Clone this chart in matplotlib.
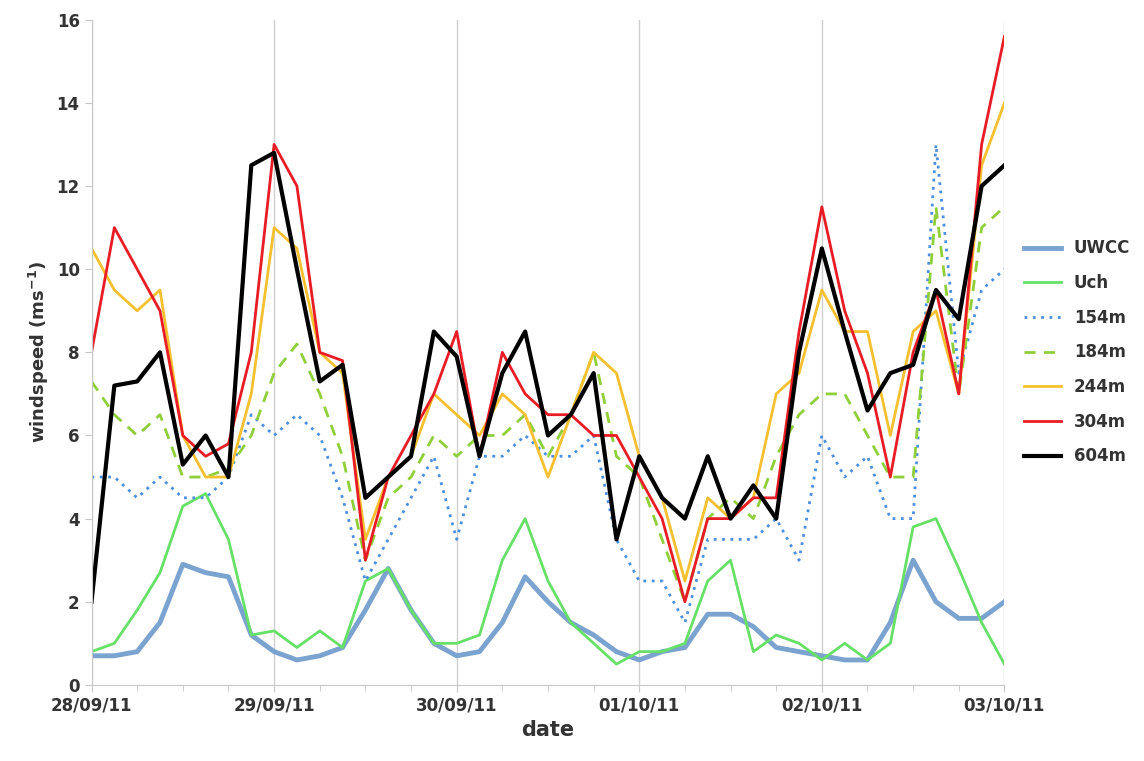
import numpy as np
import matplotlib.pyplot as plt

# 3-hourly readings, 28/09/11 00:00 to 03/10/11 00:00
hours = np.arange(0, 121, 3)

uwcc = [0.7, 0.7, 0.8, 1.5, 2.9, 2.7, 2.6, 1.2, 0.8, 0.6, 0.7, 0.9, 1.8, 2.8, 1.8, 1.0, 0.7, 0.8, 1.5, 2.6, 2.0,
        1.5, 1.2, 0.8, 0.6, 0.8, 0.9, 1.7, 1.7, 1.4, 0.9, 0.8, 0.7, 0.6, 0.6, 1.5, 3.0, 2.0, 1.6, 1.6, 2.0]
uch = [0.8, 1.0, 1.8, 2.7, 4.3, 4.6, 3.5, 1.2, 1.3, 0.9, 1.3, 0.9, 2.5, 2.8, 1.8, 1.0, 1.0, 1.2, 3.0, 4.0, 2.5,
       1.5, 1.0, 0.5, 0.8, 0.8, 1.0, 2.5, 3.0, 0.8, 1.2, 1.0, 0.6, 1.0, 0.6, 1.0, 3.8, 4.0, 2.8, 1.5, 0.5]
m154 = [5.0, 5.0, 4.5, 5.0, 4.5, 4.5, 5.0, 6.5, 6.0, 6.5, 6.0, 4.5, 2.5, 3.5, 4.5, 5.5, 3.5, 5.5, 5.5, 6.0, 5.5,
        5.5, 6.0, 3.5, 2.5, 2.5, 1.5, 3.5, 3.5, 3.5, 4.0, 3.0, 6.0, 5.0, 5.5, 4.0, 4.0, 13.0, 7.5, 9.5, 10.0]
m184 = [7.3, 6.5, 6.0, 6.5, 5.0, 5.0, 5.2, 6.0, 7.5, 8.2, 7.0, 5.5, 3.0, 4.5, 5.0, 6.0, 5.5, 6.0, 6.0, 6.5, 5.5,
        6.5, 8.0, 5.5, 5.0, 3.5, 2.0, 4.0, 4.5, 4.0, 5.5, 6.5, 7.0, 7.0, 6.0, 5.0, 5.0, 11.5, 7.0, 11.0, 11.5]
m244 = [10.5, 9.5, 9.0, 9.5, 6.0, 5.0, 5.0, 7.0, 11.0, 10.5, 8.0, 7.5, 3.5, 5.0, 5.5, 7.0, 6.5, 6.0, 7.0, 6.5, 5.0,
        6.5, 8.0, 7.5, 5.5, 4.5, 2.5, 4.5, 4.0, 4.5, 7.0, 7.5, 9.5, 8.5, 8.5, 6.0, 8.5, 9.0, 7.0, 12.5, 14.0]
m304 = [8.0, 11.0, 10.0, 9.0, 6.0, 5.5, 5.8, 8.0, 13.0, 12.0, 8.0, 7.8, 3.0, 5.0, 6.0, 7.0, 8.5, 5.5, 8.0, 7.0, 6.5,
        6.5, 6.0, 6.0, 5.0, 4.0, 2.0, 4.0, 4.0, 4.5, 4.5, 8.5, 11.5, 9.0, 7.5, 5.0, 8.0, 9.5, 7.0, 13.0, 15.6]
m604 = [2.0, 7.2, 7.3, 8.0, 5.3, 6.0, 5.0, 12.5, 12.8, 10.0, 7.3, 7.7, 4.5, 5.0, 5.5, 8.5, 7.9, 5.5, 7.5, 8.5, 6.0,
        6.5, 7.5, 3.5, 5.5, 4.5, 4.0, 5.5, 4.0, 4.8, 4.0, 8.0, 10.5, 8.5, 6.6, 7.5, 7.7, 9.5, 8.8, 12.0, 12.5]

day_labels = ["28/09/11", "29/09/11", "30/09/11", "01/10/11", "02/10/11", "03/10/11"]

fig = plt.figure(figsize=(11.44, 7.61), dpi=100)
ax = fig.add_axes([0.080, 0.100, 0.798, 0.874])

ax.plot(hours, uwcc, color="#7ba3d0", lw=3.5, label="UWCC")
ax.plot(hours, uch, color="#66e066", lw=2, label="Uch")
ax.plot(hours, m154, color="#4a8fe0", lw=2, ls=(0, (1, 2)), label="154m")
ax.plot(hours, m184, color="#8fcf3a", lw=2, ls=(0, (4, 3)), label="184m")
ax.plot(hours, m244, color="#f5c030", lw=2, label="244m")
ax.plot(hours, m304, color="#e81c24", lw=2, label="304m")
ax.plot(hours, m604, color="black", lw=3, label="604m")

ax.set_xlim(0, 120)
ax.set_ylim(0, 16)
ax.set_xticks(np.arange(0, 121, 24))
ax.set_xticklabels(day_labels)
ax.set_xticks(np.arange(0, 121, 6), minor=True)
ax.set_yticks(np.arange(0, 17, 2))
ax.grid(axis="x", color="#d0d0d0", lw=1)
for s in ["top", "right"]:
    ax.spines[s].set_visible(False)
for s in ["left", "bottom"]:
    ax.spines[s].set_color("#c8c8c8")
ax.tick_params(colors="#c8c8c8", labelcolor="#333333", labelsize=12, length=5)
ax.tick_params(which="minor", colors="#c8c8c8", length=4)
for lab in ax.get_xticklabels() + ax.get_yticklabels():
    lab.set_fontweight("bold")

ax.set_xlabel("date", fontsize=15, fontweight="bold", color="#333333")
ax.set_ylabel("windspeed (ms$^{\\mathbf{-1}}$)", fontsize=13, fontweight="bold", color="#333333")

leg = ax.legend(loc="center left", bbox_to_anchor=(1.005, 0.5), frameon=False,
                fontsize=12, handlelength=2.2, labelspacing=1.0)
for t in leg.get_texts():
    t.set_fontweight("bold")
    t.set_color("#333333")

fig.savefig("out.png")
